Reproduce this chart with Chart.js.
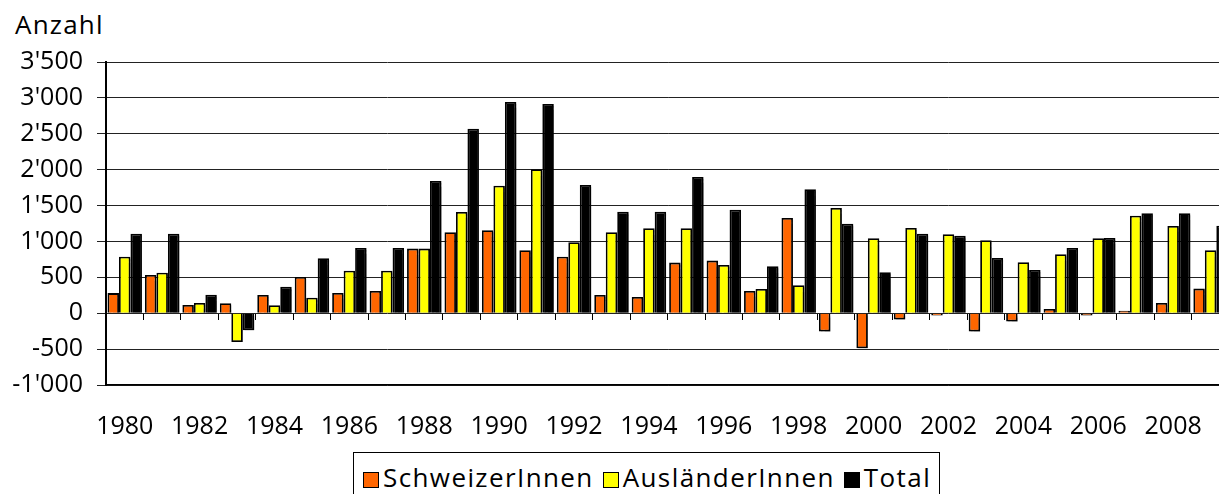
<!DOCTYPE html>
<html>
<head>
<meta charset="utf-8">
<script src="https://cdn.jsdelivr.net/npm/chart.js@4"></script>
<style>
    html, body { margin: 0; padding: 0; background: #fff; overflow: hidden; width: 1219px; height: 494px; }
    #wrap { position: absolute; left: 0; top: 0; width: 1250px; height: 445px; }
    #title { position: absolute; left: 15px; top: 11px; font: 26px "Open Sans", sans-serif; letter-spacing: 1.2px; line-height: 26px; color: #000; }
    #legend { position: absolute; left: 353px; top: 452px; width: 587px; height: 60px; box-sizing: border-box;
              border: 1px solid #000; font: 26px "Open Sans", sans-serif; letter-spacing: 1.4px; color: #000;
              padding: 6px 0 0 9px; white-space: nowrap; }
    #legend span.box { display: inline-block; width: 14px; height: 14px; border: 1px solid #000; margin-right: 4px; vertical-align: -1px; }
    #legend span.item { margin-right: 9px; }
</style>
</head>
<body>
<div id="title">Anzahl</div>
<div id="wrap"><canvas id="chart" width="1250" height="445"></canvas></div>
<div id="legend"></div>

<script>
const years = ['1980', '1981', '1982', '1983', '1984', '1985', '1986', '1987', '1988', '1989',
    '1990', '1991', '1992', '1993', '1994', '1995', '1996', '1997', '1998', '1999',
    '2000', '2001', '2002', '2003', '2004', '2005', '2006', '2007', '2008', '2009'];

const schweizer = [280, 533, 116, 139, 255, 506, 283, 311, 900, 1128,
    1156, 877, 788, 255, 227, 705, 733, 311, 1327, -256,
    -487, -89, -33, -256, -117, 60, -30, 36, 143, 343];

const auslaender = [788, 565, 143, -400, 111, 217, 593, 593, 900, 1411,
    1777, 2005, 988, 1128, 1184, 1184, 673, 338, 390, 1466,
    1044, 1188, 1100, 1016, 710, 822, 1044, 1359, 1216, 877];

const total = [1108, 1108, 259, -237, 370, 765, 910, 910, 1843, 2571,
    2943, 2915, 1786, 1415, 1415, 1898, 1443, 655, 1727, 1248,
    571, 1108, 1081, 770, 603, 910, 1049, 1393, 1393, 1220];

const seriesNames = ['SchweizerInnen', 'AusländerInnen', 'Total'];
const seriesColors = ['#ff6600', '#ffff00', '#000000'];

const yMin = -1000;
const yMax = 3500;
const yStep = 500;

function formatNumber(v) {
    const s = Math.abs(v).toString().replace(/\B(?=(\d{3})+(?!\d))/g, "'");
    return (v < 0 ? '-' : '') + s;
}

const fontAxis = { family: '"Open Sans", sans-serif', size: 25 };

const chartData = {
    labels: years,
    datasets: [schweizer, auslaender, total].map(function (values, i) {
        return {
            label: seriesNames[i],
            data: values,
            backgroundColor: seriesColors[i],
            borderColor: '#000',
            borderWidth: 1.8,
            categoryPercentage: 0.92,
            barPercentage: 1.0
        };
    })
};

// soft grey shadow behind the bars, like the original
const barShadow = {
    id: 'barShadow',
    beforeDatasetsDraw: function (chart) {
        const c = chart.ctx;
        c.save();
        c.shadowColor = 'rgba(0, 0, 0, 0.35)';
        c.shadowOffsetX = 2;
        c.shadowOffsetY = 2;
        c.shadowBlur = 1;
    },
    afterDatasetsDraw: function (chart) {
        chart.ctx.restore();
    }
};

const ctx = document.getElementById('chart').getContext('2d');
const chart = new Chart(ctx, {
    type: 'bar',
    data: chartData,
    plugins: [barShadow],
    options: {
        responsive: false,
        animation: false,
        layout: {
            padding: { left: 0, top: 62, right: 20.7, bottom: 0 }
        },
        plugins: {
            legend: { display: false },
            tooltip: { enabled: false }
        },
        scales: {
            x: {
                position: 'bottom',
                grid: { display: false, drawTicks: false },
                border: { display: true, color: '#000', width: 1.5 },
                ticks: {
                    color: '#000',
                    font: fontAxis,
                    padding: 27,
                    autoSkip: false,
                    maxRotation: 0,
                    callback: function (value, index) {
                        return index % 2 === 0 ? years[index] : '';
                    }
                },
                afterFit: function (scale) {
                    scale.height = 60;
                }
            },
            x2: {
                type: 'category',
                labels: years,
                position: { y: 0 },
                offset: true,
                grid: {
                    offset: true,
                    drawOnChartArea: false,
                    drawTicks: true,
                    tickLength: 7,
                    color: '#000',
                    lineWidth: 1
                },
                border: { display: false },
                ticks: { display: false }
            },
            y: {
                min: yMin,
                max: yMax,
                ticks: {
                    stepSize: yStep,
                    color: '#000',
                    font: fontAxis,
                    padding: 14,
                    callback: function (value) {
                        return formatNumber(value);
                    }
                },
                grid: {
                    color: '#222',
                    lineWidth: 1,
                    tickLength: 9
                },
                border: { display: true, color: '#000', width: 2 },
                afterFit: function (scale) {
                    scale.width = 106;
                }
            }
        }
    }
});

// legend below the chart
const legendEl = document.getElementById('legend');
seriesNames.forEach(function (name, i) {
    const item = document.createElement('span');
    item.className = 'item';
    const box = document.createElement('span');
    box.className = 'box';
    box.style.background = seriesColors[i];
    item.appendChild(box);
    item.appendChild(document.createTextNode(name));
    legendEl.appendChild(item);
});
</script>
</body>
</html>
